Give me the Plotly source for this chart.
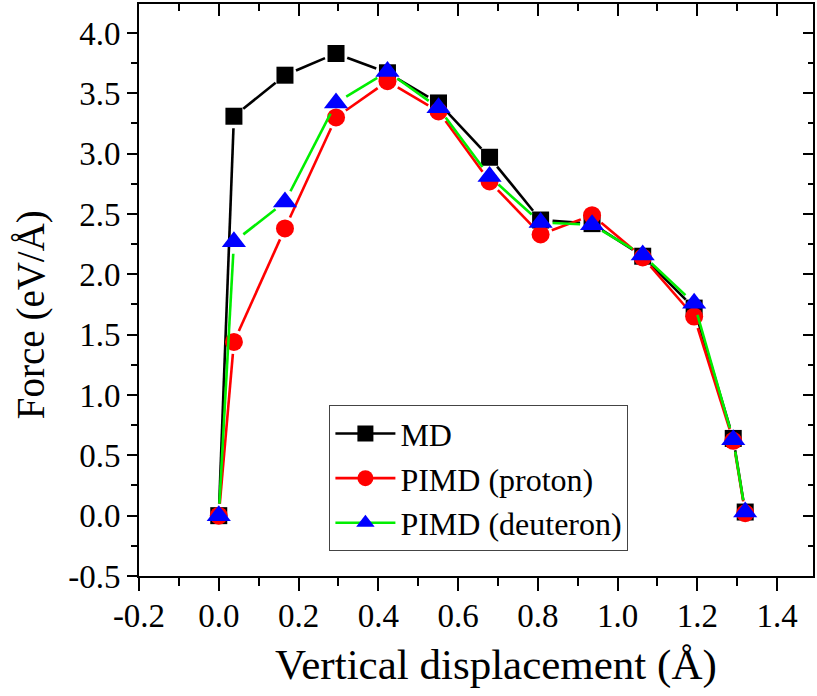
import math
import plotly.graph_objects as go

# Vertical displacement (Å) and the force (eV/Å) from each simulation type
displacement = [0.0, 0.038, 0.166, 0.294, 0.423, 0.551, 0.679, 0.807, 0.936, 1.063, 1.192, 1.290, 1.320]
force_md = [0.0, 3.31, 3.65, 3.83, 3.67, 3.42, 2.97, 2.45, 2.42, 2.15, 1.72, 0.64, 0.03]
force_proton = [0.0, 1.44, 2.38, 3.30, 3.60, 3.35, 2.77, 2.33, 2.49, 2.14, 1.65, 0.62, 0.02]
force_deuteron = [0.0, 2.27, 2.60, 3.42, 3.68, 3.38, 2.81, 2.43, 2.41, 2.16, 1.76, 0.63, 0.03]

series_names = ["MD", "PIMD (proton)", "PIMD (deuteron)"]

x_tick_vals = [-0.2, 0.0, 0.2, 0.4, 0.6, 0.8, 1.0, 1.2, 1.4]
x_tick_text = ["-0.2", "0.0", "0.2", "0.4", "0.6", "0.8", "1.0", "1.2", "1.4"]
y_tick_vals = [-0.5, 0.0, 0.5, 1.0, 1.5, 2.0, 2.5, 3.0, 3.5, 4.0]
y_tick_text = ["-0.5", "0.0", "0.5", "1.0", "1.5", "2.0", "2.5", "3.0", "3.5", "4.0"]

W, H = 817, 696
MARGIN = dict(l=139, r=2, t=4, b=120)
X_RANGE = [-0.2, 1.49]
Y_RANGE = [-0.5, 4.24]
FONT = "Liberation Serif"

# pixels per data unit, used to leave a small gap between line segments and symbols
sx = (W - MARGIN["l"] - MARGIN["r"]) / (X_RANGE[1] - X_RANGE[0])
sy = (H - MARGIN["t"] - MARGIN["b"]) / (Y_RANGE[1] - Y_RANGE[0])


def gapped_segments(xs, ys, gap_px):
    gx, gy = [], []
    for x0, y0, x1, y1 in zip(xs, ys, xs[1:], ys[1:]):
        length = math.hypot((x1 - x0) * sx, (y1 - y0) * sy)
        if length <= 2 * gap_px:
            continue
        f = gap_px / length
        gx += [x0 + (x1 - x0) * f, x1 - (x1 - x0) * f, None]
        gy += [y0 + (y1 - y0) * f, y1 - (y1 - y0) * f, None]
    return gx, gy


styles = [
    dict(y=force_md, line="#000000", marker="#000000", symbol="square", size=17),
    dict(y=force_proton, line="#ff0000", marker="#ff0000", symbol="circle", size=18),
    dict(y=force_deuteron, line="#00ee00", marker="#0000ff", symbol="triangle-up", size=21),
]

fig = go.Figure()

for name, st in zip(series_names, styles):
    lx, ly = gapped_segments(displacement, st["y"], 12)
    fig.add_trace(go.Scatter(
        x=lx, y=ly, mode="lines", line=dict(color=st["line"], width=2.6),
        showlegend=False, hoverinfo="skip",
    ))
    fig.add_trace(go.Scatter(
        x=displacement, y=st["y"], mode="markers", name=name,
        marker=dict(symbol=st["symbol"], size=st["size"], color=st["marker"],
                    line=dict(width=0)),
        showlegend=False,
    ))

# legend entries (line + symbol)
for name, st in zip(series_names, styles):
    fig.add_trace(go.Scatter(
        x=[None], y=[None], mode="lines+markers", name=name,
        line=dict(color=st["line"], width=2.6),
        marker=dict(symbol=st["symbol"], size=st["size"], color=st["marker"],
                    line=dict(width=0)),
    ))

axis_common = dict(
    showgrid=False, zeroline=False, linecolor="black", linewidth=2,
    tickcolor="black", tickwidth=2,
)

fig.update_layout(
    width=W, height=H,
    margin=MARGIN,
    paper_bgcolor="white", plot_bgcolor="white",
    font=dict(family=FONT, color="black", size=33),
    showlegend=True,
    legend=dict(
        x=0.2825, y=0.2985, xanchor="left", yanchor="top",
        bordercolor="#444444", borderwidth=1, bgcolor="white",
        font=dict(family=FONT, size=32, color="black"),
        itemwidth=60, tracegroupgap=0,
    ),
    xaxis=dict(
        **axis_common, range=X_RANGE, showline=True, mirror=True,
        ticks="outside", ticklen=13, tickvals=x_tick_vals, ticktext=x_tick_text,
        ticklabelstandoff=-4,
        minor=dict(ticks="outside", ticklen=8, dtick=0.1, tick0=0, tickwidth=2, tickcolor="black"),
        tickfont=dict(family=FONT, size=33),
    ),
    yaxis=dict(
        **axis_common, range=Y_RANGE, showline=True, mirror=True,
        ticks="outside", ticklen=10, tickvals=y_tick_vals, ticktext=y_tick_text,
        minor=dict(ticks="outside", ticklen=6, dtick=0.25, tick0=0, tickwidth=2, tickcolor="black"),
        tickfont=dict(family=FONT, size=33),
    ),
    xaxis2=dict(
        **axis_common, range=X_RANGE, overlaying="x", side="top", showline=False,
        showticklabels=False, ticks="inside", ticklen=12, tickvals=x_tick_vals,
        minor=dict(ticks="inside", ticklen=7, dtick=0.1, tick0=0, tickwidth=2, tickcolor="black"),
    ),
    yaxis2=dict(
        **axis_common, range=Y_RANGE, overlaying="y", side="right", showline=False,
        showticklabels=False, ticks="inside", ticklen=10, tickvals=y_tick_vals,
        minor=dict(ticks="inside", ticklen=5, dtick=0.25, tick0=0, tickwidth=2, tickcolor="black"),
    ),
    annotations=[
        dict(text="Vertical displacement (Å)", xref="paper", yref="paper",
             x=0.5296, y=-0.1556, xanchor="center", yanchor="middle", showarrow=False,
             font=dict(family=FONT, size=43, color="black")),
        dict(text="Force (eV/Å)", xref="paper", yref="paper", textangle=-90,
             x=-0.16, y=0.4563, xanchor="center", yanchor="middle", showarrow=False,
             font=dict(family=FONT, size=39, color="black")),
    ],
)

# an empty trace so the mirrored tick axes are drawn
fig.add_trace(go.Scatter(x=[None], y=[None], xaxis="x2", yaxis="y2",
                         showlegend=False, hoverinfo="skip"))

fig.write_html("out.html")
